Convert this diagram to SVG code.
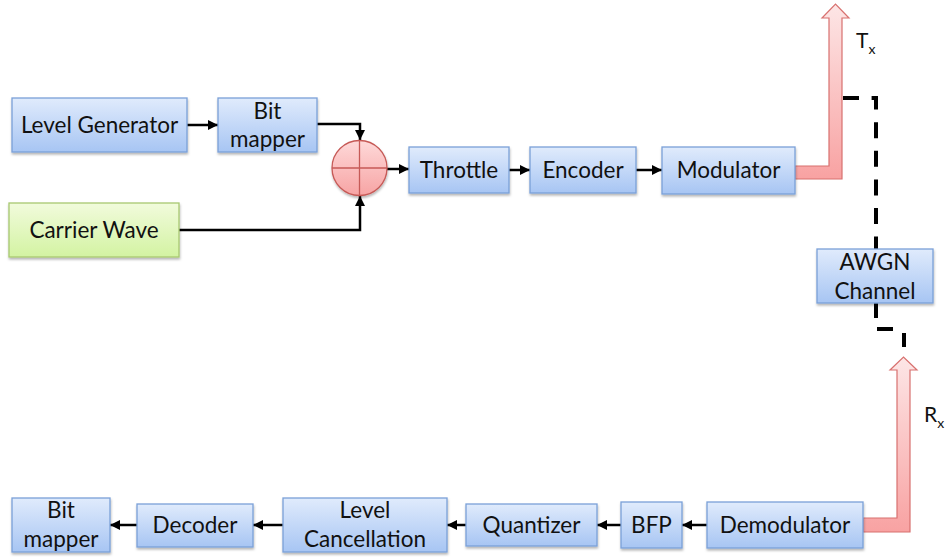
<svg xmlns="http://www.w3.org/2000/svg" width="946" height="558" viewBox="0 0 946 558">
  <defs>
    <linearGradient id="gBlue" x1="0" y1="0" x2="0" y2="1">
      <stop offset="0" stop-color="#e0ebfc"/>
      <stop offset="1" stop-color="#a7c5f3"/>
    </linearGradient>
    <linearGradient id="gGreen" x1="0" y1="0" x2="0" y2="1">
      <stop offset="0" stop-color="#f1fbdc"/>
      <stop offset="1" stop-color="#d3f3a2"/>
    </linearGradient>
    <linearGradient id="gRed" x1="0" y1="0" x2="0" y2="1">
      <stop offset="0" stop-color="#fde6e6"/>
      <stop offset="1" stop-color="#f8a2a2"/>
    </linearGradient>
    <linearGradient id="gSum" x1="0" y1="0" x2="0" y2="1">
      <stop offset="0" stop-color="#fed9d9"/>
      <stop offset="1" stop-color="#f7a4a4"/>
    </linearGradient>
    <filter id="shadow" x="-10%" y="-10%" width="120%" height="130%">
      <feDropShadow dx="0.5" dy="2" stdDeviation="1.2" flood-color="#000" flood-opacity="0.28"/>
    </filter>
    <marker id="ah" viewBox="0 0 10 10" refX="10" refY="5" markerWidth="4" markerHeight="4" orient="auto" markerUnits="strokeWidth">
      <path d="M0,0 L10,5 L0,10 z" fill="#000"/>
    </marker>
  </defs>
  <style>
    .box { fill: url(#gBlue); stroke: #7aa0d8; stroke-width: 1.3; filter: url(#shadow); }
    .green { fill: url(#gGreen); stroke: #a8c870; stroke-width: 1.3; filter: url(#shadow); }
    .lbl { font-family: Lato, "Liberation Sans", sans-serif; font-size: 22.5px; fill: #111; text-anchor: middle; }
    .sub { font-family: Lato, "Liberation Sans", sans-serif; font-size: 21px; fill: #111; }
    .conn { fill: none; stroke: #000; stroke-width: 2.5; marker-end: url(#ah); }
    .dash { fill: none; stroke: #000; stroke-width: 4; }
    .big { fill: url(#gRed); stroke: #d8716f; stroke-width: 1.2; }
  </style>

  <!-- signal connectors -->
  <g id="connectors">
    <path class="conn" d="M187,125 H218"/>
    <path class="conn" d="M317,124 H360 V140"/>
    <path class="conn" d="M179,230 H360 V196"/>
    <path class="conn" d="M387,169 H409"/>
    <path class="conn" d="M509,170 H530"/>
    <path class="conn" d="M636,170 H662"/>
    <path class="conn" d="M707,525 H682"/>
    <path class="conn" d="M621,525 H597"/>
    <path class="conn" d="M466,525 H447"/>
    <path class="conn" d="M283,525 H253"/>
    <path class="conn" d="M137,525 H110"/>
    <!-- channel path (dashed) -->
    <path class="dash" d="M843,98 H876 V303" stroke-dasharray="16 12.6"/>
    <path class="dash" d="M876,303 V329 H904 V348" stroke-dasharray="15 12 16 15 14 40"/>
    <!-- transmit / receive block arrows -->
    <path class="big" d="M795,166 H829 V18 H822 L835.5,4 L849,18 H842 V179 H795 Z"/>
    <path class="big" d="M863,518 H897 V370 H890 L903.5,357 L917,370 H910 V532 H863 Z"/>
  </g>

  <g id="level-generator">
    <rect class="box" x="12" y="98" width="175" height="54"/>
    <text class="lbl" x="99.5" y="133">Level Generator</text>
  </g>
  <g id="bit-mapper-tx">
    <rect class="box" x="218" y="98" width="99" height="54"/>
    <text class="lbl" x="267.5" y="119">Bit</text>
    <text class="lbl" x="267.5" y="147">mapper</text>
  </g>
  <g id="carrier-wave">
    <rect class="green" x="9" y="203" width="170" height="54"/>
    <text class="lbl" x="94" y="238">Carrier Wave</text>
  </g>
  <g id="summer">
    <circle cx="359.5" cy="168" r="27.5" fill="url(#gSum)" stroke="#c65a57" stroke-width="1.3" filter="url(#shadow)"/>
    <path d="M332,168 H387 M359.5,140.5 V195.5" stroke="#c65a57" stroke-width="1.3"/>
  </g>
  <g id="throttle">
    <rect class="box" x="409" y="147" width="100" height="46"/>
    <text class="lbl" x="459" y="178">Throttle</text>
  </g>
  <g id="encoder">
    <rect class="box" x="530" y="147" width="106" height="46"/>
    <text class="lbl" x="583" y="178">Encoder</text>
  </g>
  <g id="modulator">
    <rect class="box" x="662" y="147" width="133" height="47"/>
    <text class="lbl" x="728.5" y="178">Modulator</text>
  </g>
  <g id="tx-label">
    <text class="sub" x="856" y="48">T<tspan font-size="14" dy="6">x</tspan></text>
  </g>
  <g id="awgn-channel">
    <rect class="box" x="817" y="249" width="116" height="54"/>
    <text class="lbl" x="875" y="270">AWGN</text>
    <text class="lbl" x="875" y="299">Channel</text>
  </g>
  <g id="rx-label">
    <text class="sub" x="924" y="422">R<tspan font-size="14" dy="6">x</tspan></text>
  </g>
  <g id="demodulator">
    <rect class="box" x="707" y="502" width="156" height="46"/>
    <text class="lbl" x="785" y="533">Demodulator</text>
  </g>
  <g id="bfp">
    <rect class="box" x="621" y="502" width="61" height="46"/>
    <text class="lbl" x="651.5" y="533">BFP</text>
  </g>
  <g id="quantizer">
    <rect class="box" x="466" y="504" width="131" height="42"/>
    <text class="lbl" x="531.5" y="533">Quantizer</text>
  </g>
  <g id="level-cancellation">
    <rect class="box" x="283" y="498" width="164" height="54"/>
    <text class="lbl" x="365" y="518">Level</text>
    <text class="lbl" x="365" y="547">Cancellation</text>
  </g>
  <g id="decoder">
    <rect class="box" x="137" y="504" width="116" height="43"/>
    <text class="lbl" x="195" y="533">Decoder</text>
  </g>
  <g id="bit-mapper-rx">
    <rect class="box" x="12" y="498" width="98" height="54"/>
    <text class="lbl" x="61" y="518">Bit</text>
    <text class="lbl" x="61" y="547">mapper</text>
  </g>
</svg>
